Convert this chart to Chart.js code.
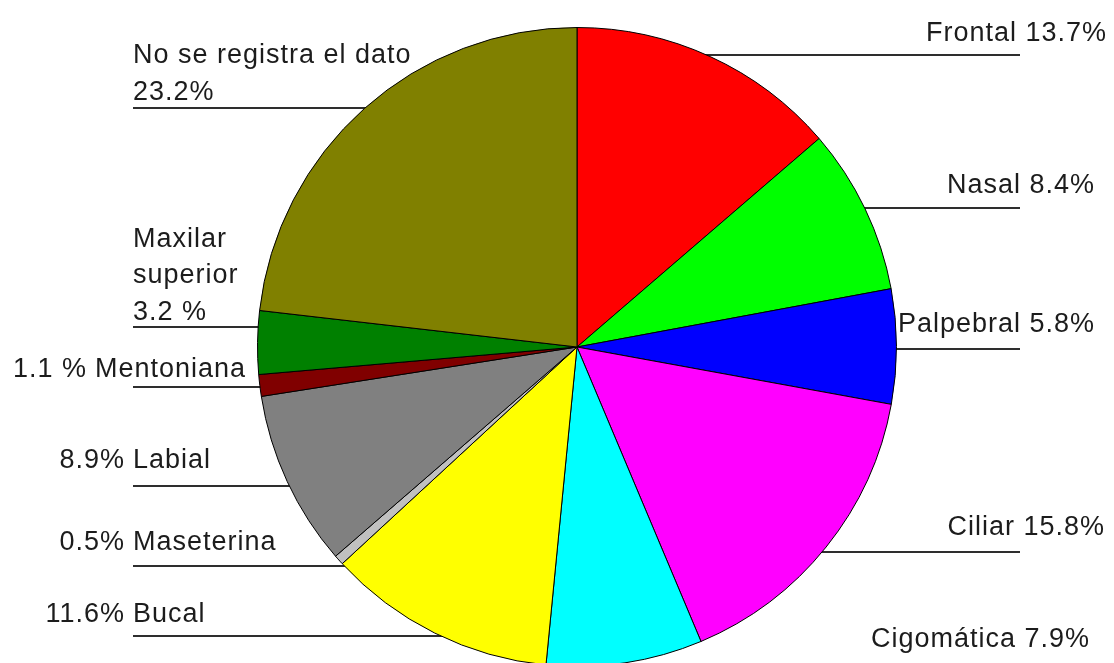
<!DOCTYPE html>
<html>
<head>
<meta charset="utf-8">
<title>Localización</title>
<script src="https://cdn.jsdelivr.net/npm/chart.js@4/dist/chart.umd.min.js"></script>
<style>
  html, body { margin: 0; padding: 0; background: #fff; overflow: hidden; }
  #wrap { width: 1114px; height: 700px; }
</style>
</head>
<body>
<div id="wrap"><canvas id="myChart" width="1114" height="700"></canvas></div>
<script>
"use strict";

let zoneNames = ['Frontal', 'Nasal', 'Palpebral', 'Ciliar', 'Cigomática', 'Bucal', 'Maseterina', 'Labial', 'Mentoniana', 'Maxilar superior', 'No se registra el dato'];
let zoneValues = [13.7, 8.4, 5.8, 15.8, 7.9, 11.6, 0.5, 8.9, 1.1, 3.2, 23.2];
let zoneColors = ['#ff0000', '#00ff00', '#0000ff', '#ff00ff', '#00ffff', '#ffff00', '#c0c0c0', '#808080', '#800000', '#008000', '#808000'];

// where each label sits, {v} gets the value
let labelSpots = [
    {side: 'right', x: 1107, y: [41], line: 55, text: ['Frontal {v}%']},
    {side: 'right', x: 1095, y: [193], line: 208, text: ['Nasal {v}%']},
    {side: 'right', x: 1095, y: [332], line: 349, text: ['Palpebral {v}%']},
    {side: 'right', x: 1105, y: [535], line: 552, text: ['Ciliar {v}%']},
    {side: 'right', x: 1090, y: [647], line: 670, text: ['Cigomática {v}%']},
    {side: 'left', x: 133, y: [622], line: 636, pre: '{v}%', text: ['Bucal']},
    {side: 'left', x: 133, y: [550], line: 566, pre: '{v}%', text: ['Maseterina']},
    {side: 'left', x: 133, y: [468], line: 486, pre: '{v}%', text: ['Labial']},
    {side: 'left', x: 95, y: [377], line: 387, pre: '{v} %', text: ['Mentoniana']},
    {side: 'left', x: 133, y: [247, 283, 320], line: 327, text: ['Maxilar', 'superior', '{v} %']},
    {side: 'left', x: 133, y: [63, 100], line: 108, text: ['No se registra el dato', '{v}%']}
];

function fillValue(str, v){
    return str.replace('{v}', v.toFixed(1));
}

let leaderLabels = {
    id: 'leaderLabels',
    beforeDatasetsDraw(chart){
        // lines go under the pie, the slices hide the inner part
        let ctx = chart.ctx;
        let cx = (chart.chartArea.left + chart.chartArea.right) / 2;
        ctx.save();
        ctx.strokeStyle = '#2e2e2e';
        ctx.lineWidth = 2;
        for (let i = 0; i < labelSpots.length; i++){
            let s = labelSpots[i];
            ctx.beginPath();
            if (s.side === 'right'){
                ctx.moveTo(cx, s.line);
                ctx.lineTo(1020, s.line);
            } else {
                ctx.moveTo(133, s.line);
                ctx.lineTo(cx, s.line);
            }
            ctx.stroke();
        }
        ctx.restore();
    },
    afterDatasetsDraw(chart){
        let ctx = chart.ctx;
        ctx.save();
        ctx.font = '27px "Liberation Sans", Arial, sans-serif';
        ctx.letterSpacing = '1px';
        ctx.fillStyle = '#1c1c1c';
        ctx.textBaseline = 'alphabetic';
        for (let i = 0; i < labelSpots.length; i++){
            let s = labelSpots[i];
            let v = zoneValues[i];
            if (s.side === 'right'){
                ctx.textAlign = 'right';
            } else {
                ctx.textAlign = 'left';
            }
            for (let j = 0; j < s.text.length; j++){
                ctx.fillText(fillValue(s.text[j], v), s.x, s.y[j]);
            }
            if (s.pre){
                ctx.textAlign = 'right';
                ctx.fillText(fillValue(s.pre, v), s.x - 8, s.y[0]);
            }
        }
        ctx.restore();
    }
};

const ctx = document.getElementById('myChart').getContext('2d');
const myChart = new Chart(ctx, {
    type: 'pie',
    data: {
        labels: zoneNames,
        datasets: [{
            data: zoneValues,
            backgroundColor: zoneColors,
            borderColor: '#000000',
            borderWidth: 1
        }]
    },
    options: {
        responsive: false,
        animation: false,
        devicePixelRatio: 1,
        layout: {
            padding: {left: 257, right: 217, top: 27, bottom: 33}
        },
        plugins: {
            legend: {display: false},
            tooltip: {enabled: false}
        }
    },
    plugins: [leaderLabels]
});
</script>
</body>
</html>
